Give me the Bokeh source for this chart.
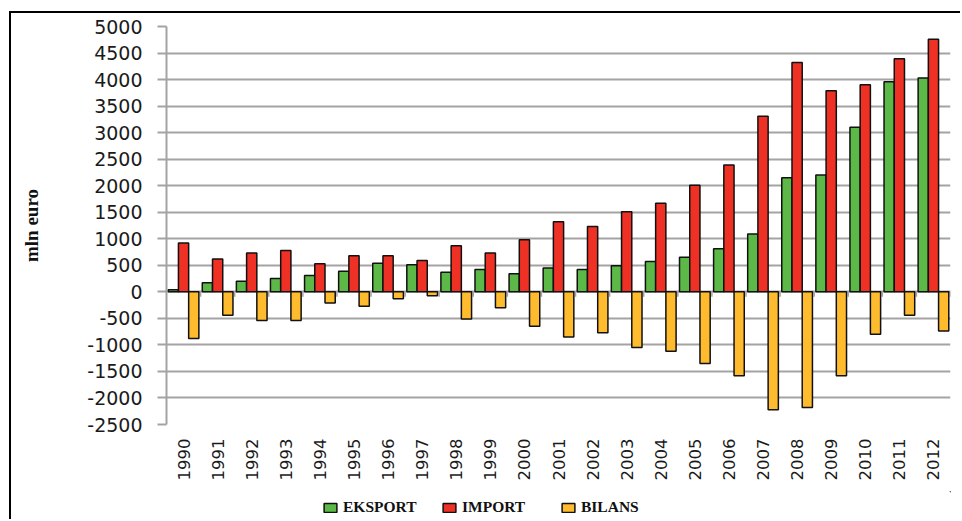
import math
from bokeh.plotting import figure
from bokeh.layouts import column
from bokeh.models import ColumnDataSource, FactorRange, Range1d, FixedTicker
from bokeh.transform import dodge
from bokeh.embed import file_html
from bokeh.resources import INLINE

# ---- data (mln euro) ----
years = ["1990", "1991", "1992", "1993", "1994", "1995", "1996", "1997", "1998", "1999",
         "2000", "2001", "2002", "2003", "2004", "2005", "2006", "2007", "2008", "2009",
         "2010", "2011", "2012"]
eksport = [40, 170, 200, 250, 310, 390, 540, 510, 370, 420,
           340, 450, 420, 490, 570, 650, 810, 1090, 2150, 2200,
           3100, 3960, 4030]
import_ = [920, 620, 730, 780, 530, 680, 680, 590, 870, 730,
           980, 1320, 1230, 1510, 1670, 2010, 2390, 3310, 4320, 3790,
           3900, 4390, 4760]
bilans = [-880, -440, -540, -540, -210, -270, -130, -75, -510, -300,
          -650, -850, -770, -1050, -1120, -1350, -1580, -2220, -2180, -1580,
          -800, -440, -740]
y_ticks = [-2500, -2000, -1500, -1000, -500, 0, 500, 1000, 1500, 2000, 2500, 3000, 3500, 4000, 4500, 5000]
series_names = ["EKSPORT", "IMPORT", "BILANS"]
y_label = "mln euro"

# ---- styles ----
colors = ["#5cb947", "#ee3124", "#fdbb2d"]
grid_color = "#a3a3a3"
tick_font = "DejaVu Sans"
serif = "Liberation Serif"

source = ColumnDataSource(dict(year=years, eksport=eksport, imp=import_, bilans=bilans))

p = figure(
    width=951, height=480,
    x_range=FactorRange(*years, range_padding=0),
    y_range=Range1d(y_ticks[0], y_ticks[-1]),
    output_backend="svg", toolbar_location=None,
    min_border_left=155, min_border_right=12, min_border_top=13, min_border_bottom=69,
    styles={"margin-left": "9px", "margin-top": "11px",
            "border-left": "2px solid #000", "border-top": "2px solid #000"},
)
p.outline_line_color = None
p.background_fill_color = "white"
p.border_fill_color = "white"

# category boundary tick marks on the zero line
bounds = [i for i in range(1, len(years) + 1)]
p.segment(x0=bounds, y0=[0] * len(bounds), x1=bounds, y1=[-95] * len(bounds),
          line_color=grid_color, line_width=1.5)

w = 0.3
for off, col, c in zip([-w, 0, w], ["eksport", "imp", "bilans"], colors):
    p.vbar(x=dodge("year", off, range=p.x_range), top=col, width=w, source=source,
           fill_color=c, line_color="#111111", line_width=1.5)

# y axis
p.yaxis.ticker = FixedTicker(ticks=y_ticks)
p.yaxis.major_label_overrides = {t: str(t) for t in y_ticks}
p.yaxis.axis_line_color = grid_color
p.yaxis.axis_line_width = 2
p.yaxis.major_tick_line_color = grid_color
p.yaxis.major_tick_line_width = 2
p.yaxis.major_tick_out = 9
p.yaxis.major_tick_in = 0
p.yaxis.minor_tick_line_color = None
p.yaxis.major_label_standoff = 15
p.yaxis.major_label_text_font = tick_font
p.yaxis.major_label_text_font_size = "19px"
p.yaxis.major_label_text_color = "#1a1a1a"
p.yaxis.axis_label = y_label
p.yaxis.axis_label_text_font = serif
p.yaxis.axis_label_text_font_style = "bold"
p.yaxis.axis_label_text_font_size = "19px"
p.yaxis.axis_label_text_color = "#111111"
p.yaxis.axis_label_standoff = 42

p.ygrid.ticker = FixedTicker(ticks=y_ticks)
p.ygrid.grid_line_color = grid_color
p.ygrid.grid_line_width = 2
p.xgrid.grid_line_color = None

# x axis
p.xaxis.axis_line_color = None
p.xaxis.major_tick_line_color = None
p.xaxis.major_tick_out = 0
p.xaxis.major_tick_in = 0
p.xaxis.major_label_orientation = math.pi / 2
p.xaxis.major_label_standoff = 14
p.xaxis.major_label_text_font = tick_font
p.xaxis.major_label_text_font_size = "16.5px"
p.xaxis.major_label_text_color = "#1a1a1a"

# ---- legend strip below the chart ----
p2 = figure(
    width=951, height=28,
    x_range=Range1d(0, 1), y_range=Range1d(0, 1),
    output_backend="svg", toolbar_location=None,
    x_axis_location=None, y_axis_location=None,
    min_border=0, min_border_left=0, min_border_right=0, min_border_top=0, min_border_bottom=0,
    styles={"margin-left": "9px", "border-left": "2px solid #000"},
)
p2.outline_line_color = None
p2.background_fill_color = "white"
p2.border_fill_color = "white"
p2.xgrid.visible = False
p2.ygrid.visible = False
# legend-only renderers, placed outside the visible range of the strip
for c, name in zip(colors, series_names):
    p2.vbar(x=[5], top=[5], bottom=[4], width=0.1, fill_color=c, line_color="#111111",
            line_width=1.5, legend_label=name)

lg = p2.legend[0]
lg.orientation = "horizontal"
lg.location = (156, 3)
lg.padding = 0
lg.margin = 0
lg.spacing = 22
lg.border_line_color = None
lg.background_fill_alpha = 0
lg.glyph_width = 16
lg.glyph_height = 11
lg.label_standoff = 5
lg.label_width = 76
lg.label_height = 11
lg.label_text_font = serif
lg.label_text_font_style = "bold"
lg.label_text_font_size = "15.5px"
lg.label_text_color = "#111111"

layout = column(p, p2, spacing=0)
open("out.html", "w").write(file_html(layout, INLINE))
